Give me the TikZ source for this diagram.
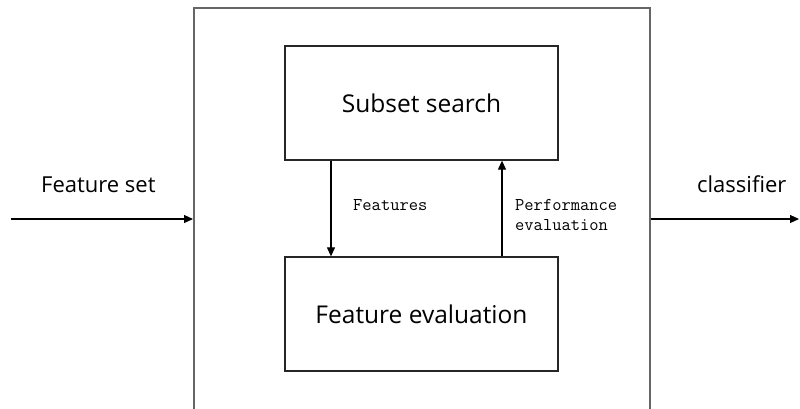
\documentclass[tikz,border=0pt]{standalone}
\usepackage{fontspec}
\newfontfamily\labelfont{Open Sans}
\usetikzlibrary{arrows.meta}
\begin{document}
\begin{tikzpicture}[x=1pt,y=-1pt,
  frame/.style={draw=black!60,line width=2pt,rectangle,minimum width=456pt,minimum height=440pt,inner sep=0pt},
  stagebox/.style={draw=black!85,line width=1.3pt,rectangle,minimum width=273pt,minimum height=114pt,inner sep=0pt,font=\labelfont\fontsize{24.5}{28}\selectfont},
  sidelabel/.style={font=\labelfont\fontsize{22}{26}\selectfont,inner sep=0pt},
  flowlabel/.style={font=\ttfamily\fontsize{18}{20}\selectfont,inner sep=0pt,align=left},
  arr/.style={line width=1.1pt,-{Triangle[length=9pt,width=8pt]}}]
\useasboundingbox (0,0) rectangle (800,408);
\clip (0,0) rectangle (800,408);
\fill[white] (0,0) rectangle (800,408);

% outer block and its two stages
\node[frame] (outer) at (422,228) {};
\node[stagebox] (ss) at (421.5,103) {Subset search};
\node[stagebox] (fe) at (421.5,314) {Feature evaluation};

% input and output
\coordinate (src) at (11,219);
\coordinate (dst) at (799,219);
\draw[arr] (src) -- (src -| outer.west);
\draw[arr] (outer.east |- dst) -- (dst);
\node[sidelabel,anchor=base west] (lin) at (41,192) {Feature set};
\node[sidelabel,anchor=base west] (lout) at (697,192) {classifier};

% loop between the stages
\coordinate (dn) at (331,0);
\coordinate (up) at (502,0);
\draw[arr] (ss.south -| dn) -- (fe.north -| dn);
\draw[arr] (fe.north -| up) -- (ss.south -| up);
\node[flowlabel,anchor=base west] (lfeat) at (353,210) {Features};
\node[flowlabel,anchor=north west] (lperf) at (515,199) {Performance\\evaluation};
\end{tikzpicture}
\end{document}
